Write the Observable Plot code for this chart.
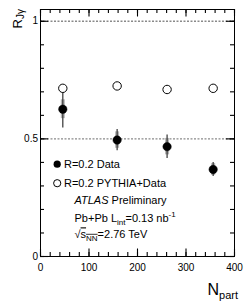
<!DOCTYPE html>
<html><head><meta charset="utf-8">
<script src="https://cdn.jsdelivr.net/npm/d3@7"></script>
<script src="https://cdn.jsdelivr.net/npm/@observablehq/plot@0.6"></script>
<style>html,body{margin:0;padding:0;background:#fff} svg{display:block}</style>
</head><body><div id="chart"></div>
<script>
// ---- data ----
const npart   = [46, 158, 261, 356];
const dataR   = [0.626, 0.495, 0.467, 0.370];
const statErr = [0.080, 0.045, 0.050, 0.030];
const sysErr  = [0.040, 0.035, 0.035, 0.025];
const pythiaR = [0.715, 0.725, 0.710, 0.715];

const xTicks = [0, 100, 200, 300, 400];
const xMinor = [0,20,40,60,80,100,120,140,160,180,200,220,240,260,280,300,320,340,360,380,400];
const yTicks = [0, 0.5, 1];
const yMinor = [0,0.1,0.2,0.3,0.4,0.5,0.6,0.7,0.8,0.9,1.0];
const gridY  = [0.5, 1];

const legendLabels = ["R=0.2 Data", "R=0.2 PYTHIA+Data", "ATLAS Preliminary", "Pb+Pb Lint=0.13 nb-1", "√sNN=2.76 TeV"];
const xTitle = "Npart";
const yTitle = "RJγ";

// rich-text markup for labels with sub/superscripts
const rich = {
  "ATLAS Preliminary": '<tspan font-style="italic">ATLAS</tspan> Preliminary',
  "Pb+Pb Lint=0.13 nb-1": 'Pb+Pb L<tspan dy="3" font-size="8">int</tspan><tspan dy="-3">=0.13 nb</tspan><tspan dy="-4.5" font-size="8">-1</tspan>',
  "√sNN=2.76 TeV": '√<tspan text-decoration="overline">s<tspan dy="2.5" font-size="8">NN</tspan></tspan><tspan dy="-2.5">=2.76 TeV</tspan>',
  "Npart": 'N<tspan dy="4" font-size="11">part</tspan>',
  "RJγ": 'R<tspan dy="2.5" font-size="10">Jγ</tspan>'
};

const rows = npart.map((n, i) => ({n, r: dataR[i], stat: statErr[i], sys: sysErr[i], p: pythiaR[i]}));

// layout (pixels)
const W = 249, H = 304, mL = 40, mR = 15, mT = 9, mB = 48;
const fw = W - mL - mR, fh = H - mT - mB;
const xMax = 400, yMax = 1.05;
const kx = xMax / fw, ky = yMax / fh;   // data units per pixel
const legendDx = [23.5, 23.5, 34, 34, 34];
const legendDy = [154.7, 173.7, 191.3, 208.7, 225.3];

const font = "'Liberation Sans', Arial, Helvetica, sans-serif";
const tk = {stroke: "black", strokeWidth: 1.1};

const marks = [
  Plot.ruleY(gridY, {y: d => d, stroke: "#8a8a8a", strokeWidth: 1.3, strokeDasharray: "2,1.5"}),
  // inward ticks: left / right
  Plot.ruleY(yMinor, {y: d => d, x1: 0, x2: 4 * kx, ...tk}),
  Plot.ruleY(yTicks, {y: d => d, x1: 0, x2: 8 * kx, ...tk}),
  Plot.ruleY(yMinor, {y: d => d, x1: xMax - 4 * kx, x2: xMax, ...tk}),
  Plot.ruleY(yTicks, {y: d => d, x1: xMax - 8 * kx, x2: xMax, ...tk}),
  // inward ticks: bottom / top
  Plot.ruleX(xMinor, {x: d => d, y1: 0, y2: 4 * ky, ...tk}),
  Plot.ruleX(xTicks, {x: d => d, y1: 0, y2: 7.5 * ky, ...tk}),
  Plot.ruleX(xMinor, {x: d => d, y1: yMax - 4 * ky, y2: yMax, ...tk}),
  Plot.ruleX(xTicks, {x: d => d, y1: yMax - 7.5 * ky, y2: yMax, ...tk}),
  Plot.frame({stroke: "black", strokeWidth: 1}),
  Plot.axisX(xTicks, {tickSize: 0, tickPadding: 7, fontSize: 10, label: null}),
  Plot.axisY(yTicks, {tickSize: 0, tickPadding: 2.5, fontSize: 10, label: null, tickFormat: d => String(d)}),
  // systematic band, stat bar, points
  Plot.ruleX(rows, {x: "n", y1: d => d.r - d.sys, y2: d => d.r + d.sys, stroke: "#b5b5b5", strokeWidth: 4}),
  Plot.ruleX(rows, {x: "n", y1: d => d.r - d.stat, y2: d => d.r + d.stat, stroke: "#333", strokeWidth: 1.2}),
  Plot.dot(rows, {x: "n", y: "r", r: 4.2, fill: "black", stroke: "black", strokeWidth: 0.5}),
  Plot.dot(rows, {x: "n", y: "p", r: 4.2, fill: "white", stroke: "black", strokeWidth: 1}),
  // legend
  Plot.dot([0], {frameAnchor: "top-left", dx: 16.7, dy: legendDy[0], r: 3.6, fill: "black"}),
  Plot.dot([0], {frameAnchor: "top-left", dx: 16.7, dy: legendDy[1], r: 3.6, fill: "white", stroke: "black", strokeWidth: 1}),
  ...legendLabels.map((t, i) => Plot.text([t], {text: d => d, frameAnchor: "top-left", dx: legendDx[i], dy: legendDy[i],
    textAnchor: "start", lineAnchor: "middle", fontSize: 11, fill: "black"})),
  // axis titles
  Plot.text([xTitle], {text: d => d, frameAnchor: "bottom-right", dx: -27, dy: 38, textAnchor: "start", lineAnchor: "bottom", fontSize: 16, fill: "black"}),
  Plot.text([yTitle], {text: d => d, frameAnchor: "top-left", dx: -19, dy: 19, rotate: -90, textAnchor: "start", lineAnchor: "bottom", fontSize: 13, fill: "black"})
];

const chart = Plot.plot({
  width: W, height: H,
  marginLeft: mL, marginRight: mR, marginTop: mT, marginBottom: mB,
  x: {domain: [0, xMax]},
  y: {domain: [0, yMax]},
  style: {fontFamily: font, fontSize: "10px", color: "black", background: "white", overflow: "visible"},
  marks
});

d3.select(chart).selectAll("text").each(function () {
  const t = this.textContent;
  if (Object.prototype.hasOwnProperty.call(rich, t)) this.innerHTML = rich[t];
});

document.getElementById("chart").appendChild(chart);
</script>
</body></html>
